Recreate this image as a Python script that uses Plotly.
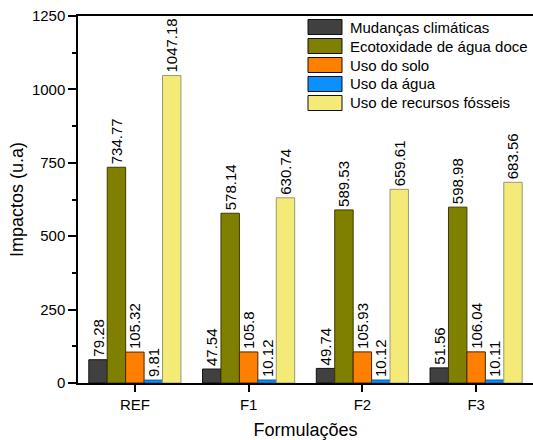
import plotly.graph_objects as go

categories = ["REF", "F1", "F2", "F3"]
series_names = ["Mudanças climáticas", "Ecotoxidade de água doce", "Uso do solo",
                "Uso da água", "Uso de recursos fósseis"]
mudancas = [79.28, 47.54, 49.74, 51.56]
ecotox = [734.77, 578.14, 589.53, 598.98]
solo = [105.32, 105.8, 105.93, 106.04]
agua = [9.81, 10.12, 10.12, 10.11]
fosseis = [1047.18, 630.74, 659.61, 683.56]
y_ticks = [0, 250, 500, 750, 1000, 1250]

values = [mudancas, ecotox, solo, agua, fosseis]
fills = ["#404040", "#808000", "#FF8000", "#0A90FF", "#F4EA78"]
edges = ["#111111", "#3a3a00", "#4a2500", "#00509a", "#9a9870"]

W, H = 533, 440
L, R, T, B = 78, 0, 16, 57
PW, PH = W - L - R, H - T - B
FONT = "Arial, Liberation Sans, sans-serif"

def px(x):
    return (x - L) / PW

def py(y):
    return (H - B - y) / PH

fig = go.Figure()
for name, vals, fc, ec in zip(series_names, values, fills, edges):
    fig.add_trace(go.Bar(
        x=categories, y=vals, name=name,
        marker=dict(color=fc, line=dict(color=ec, width=1)),
        text=[str(v) for v in vals], textposition="outside", textangle=-90,
        textfont=dict(family=FONT, size=15, color="black"),
        constraintext="none", cliponaxis=False, showlegend=False,
    ))

shapes = []
annotations = []
centers = [27, 46, 65, 84, 103]
for name, fc, ec, cy in zip(series_names, fills, edges, centers):
    shapes.append(dict(type="rect", xref="paper", yref="paper",
                       x0=px(308), x1=px(342), y0=py(cy + 7.5), y1=py(cy - 7.5),
                       fillcolor=fc, line=dict(color="#111111", width=1)))
    annotations.append(dict(xref="paper", yref="paper", x=px(348), y=py(cy),
                            xanchor="left", yanchor="middle", showarrow=False,
                            text=name, font=dict(family=FONT, size=15, color="black")))

fig.update_layout(
    width=W, height=H,
    margin=dict(l=L, r=R, t=T, b=B),
    paper_bgcolor="white", plot_bgcolor="white",
    barmode="group", bargap=0.19, bargroupgap=0,
    font=dict(family=FONT, size=15, color="black"),
    shapes=shapes, annotations=annotations,
    xaxis=dict(
        range=[-0.5, 3.5], showline=True, linecolor="black", linewidth=1.5,
        mirror=True, ticks="outside", ticklen=7, tickcolor="black", tickwidth=1.5,
        showgrid=False, zeroline=False,
        tickfont=dict(family=FONT, size=15, color="black"),
        title=dict(text="Formulações", font=dict(family=FONT, size=18, color="black"), standoff=12),
    ),
    yaxis=dict(
        range=[0, 1250], tickvals=y_ticks, showline=True, linecolor="black", linewidth=1.5,
        ticks="outside", ticklen=8, tickcolor="black", tickwidth=1.5,
        minor=dict(dtick=125, ticks="outside", ticklen=4, tickcolor="black", tickwidth=1.5),
        showgrid=False, zeroline=False,
        tickfont=dict(family=FONT, size=15, color="black"),
        title=dict(text="Impactos (u.a)", font=dict(family=FONT, size=18, color="black"), standoff=4),
    ),
)

fig.write_html("out.html", config={"displayModeBar": False},
               post_script="document.body.style.margin='0';document.body.style.overflow='hidden';")
